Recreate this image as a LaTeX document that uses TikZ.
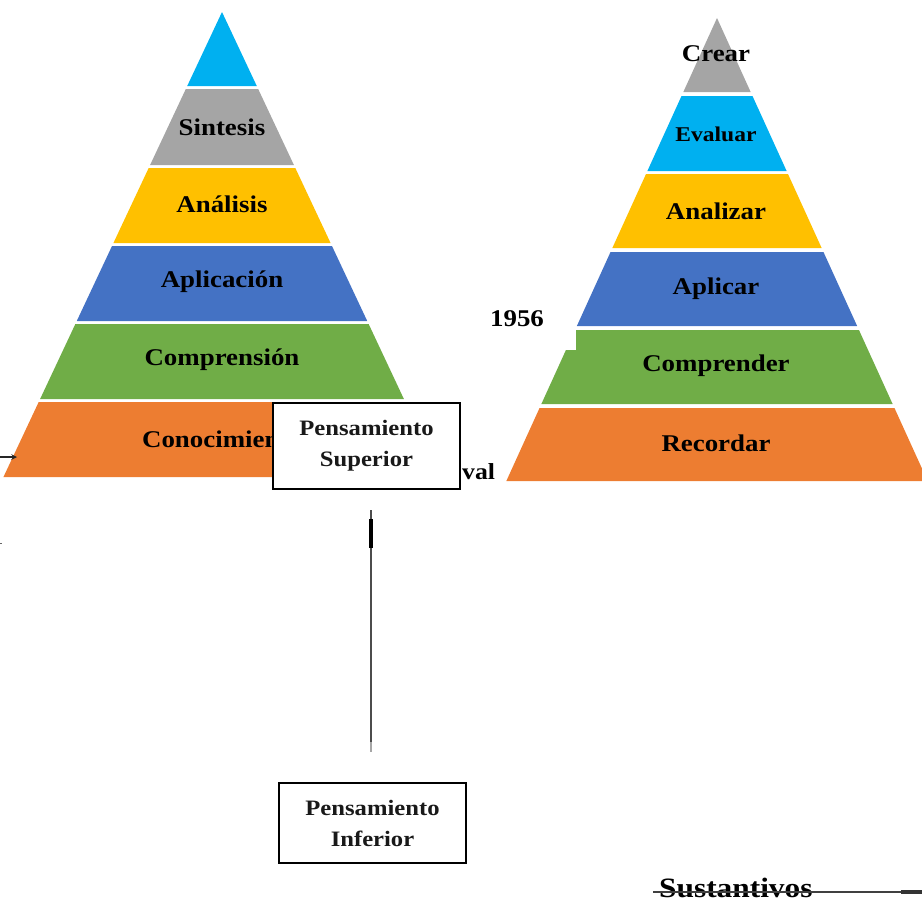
\documentclass[tikz,border=0pt]{standalone}
\usepackage{fontspec}
\setmainfont{Liberation Serif}[FakeStretch=1.12]
\definecolor{cBlueL}{HTML}{00B0F0}
\definecolor{cGray}{HTML}{A5A5A5}
\definecolor{cYel}{HTML}{FFC000}
\definecolor{cBlue}{HTML}{4472C4}
\definecolor{cGreen}{HTML}{70AD47}
\definecolor{cOrange}{HTML}{ED7D31}
\newcommand\pyrband[6]{%
 \pgfmathsetmacro\pbTL{#1-#3*(#4-#2)}\pgfmathsetmacro\pbTR{#1+#3*(#4-#2)}%
 \pgfmathsetmacro\pbBL{#1-#3*(#5-#2)}\pgfmathsetmacro\pbBR{#1+#3*(#5-#2)}%
 \fill[#6] (\pbTL,#4) -- (\pbTR,#4) -- (\pbBR,#5) -- (\pbBL,#5) -- cycle;}
\tikzset{
 lab/.style={font=\bfseries\fontsize{24}{28}\selectfont, inner sep=0pt, text=black},
 labs/.style={font=\bfseries\fontsize{21}{25}\selectfont, inner sep=0pt, text=black},
 pbox/.style={draw=black, line width=2pt, fill=white, minimum width=187pt, align=center, inner sep=0pt, font=\bfseries\fontsize{22}{31}\selectfont, text=black!90},
}
\begin{document}
\begin{tikzpicture}[x=1pt,y=-1pt]
\useasboundingbox (0,0) rectangle (922,903);
% left pyramid
\fill[cBlueL] (222,12) -- (222+0.47*74,86) -- (222-0.47*74,86) -- cycle;
\pyrband{222}{12}{0.47}{89}{165}{cGray}
\pyrband{222}{12}{0.47}{168}{243}{cYel}
\pyrband{222}{12}{0.47}{246}{321}{cBlue}
\pyrband{222}{12}{0.47}{324}{399}{cGreen}
\pyrband{222}{12}{0.47}{402}{477}{cOrange}
\node[lab] (l1) at (222,127) {Sintesis};
\node[lab] (l2) at (222,204) {Análisis};
\node[lab] (l3) at (222,282) {Aplicación};
\node[lab] (l4) at (222,360) {Comprensión};
\node[lab] (l5) at (222,439) {Conocimiento};
% left arrow and mark
\coordinate (a0) at (0,457);
\coordinate (a1) at (17,457);
\draw[black!85, line width=1.5pt, -stealth] (a0) -- (a1);
\coordinate (m0) at (0,543);
\coordinate (m1) at (2,543);
\draw[black!60, line width=1pt] (m0) -- (m1);
% boxes
\node[pbox, minimum height=86pt] (sup) at (366.5,446) {Pensamiento\\Superior};
\node[anchor=west, inner sep=0pt, font=\bfseries\fontsize{23}{27}\selectfont] (val) at (462,472) {val};
\node[pbox, minimum height=80pt] (inf) at (372.5,823) {Pensamiento\\Inferior};
% vertical line
\coordinate (v0) at (371,510);
\coordinate (v1) at (371,752);
\coordinate (v2) at (371,519);
\coordinate (v3) at (371,548);
\coordinate (v4) at (371,742);
\draw[black!70, line width=2.8pt] (v0) -- (v4);
\draw[black!35, line width=2.8pt] (v4) -- (v1);
\draw[black, line width=4.5pt] (v2) -- (v3);
% right pyramid
\fill[cGray] (717,18) -- (717+0.455*74,92) -- (717-0.455*74,92) -- cycle;
\pyrband{717}{18}{0.455}{96}{171}{cBlueL}
\pyrband{717}{18}{0.455}{174}{248}{cYel}
\pyrband{717}{18}{0.455}{252}{326}{cBlue}
\pyrband{717}{18}{0.455}{330}{404}{cGreen}
\pyrband{717}{18}{0.455}{408}{481}{cOrange}
\fill[white] (550,326) rectangle (575.5,350);
\node[lab] (r1) at (716,54) {Crear};
\node[labs] (r2) at (716,134) {Evaluar};
\node[lab] (r3) at (716,211) {Analizar};
\node[lab] (r4) at (716,289) {Aplicar};
\node[lab] (r5) at (716,366) {Comprender};
\node[lab] (r6) at (716,443) {Recordar};
\node[lab] (yr) at (517,319) {1956};
% Sustantivos
\node[font=\bfseries\fontsize{28}{32}\selectfont, inner sep=0pt, anchor=base west, text=black] (sus) at (659,897) {Sustantivos};
\coordinate (s0) at (653,892);
\coordinate (s1) at (901,892);
\coordinate (s2) at (922,892);
\draw[black!75, line width=1.8pt] (s0) -- (s1);
\draw[black!80, line width=4.5pt] (s1) -- (s2);
\end{tikzpicture}
\end{document}
